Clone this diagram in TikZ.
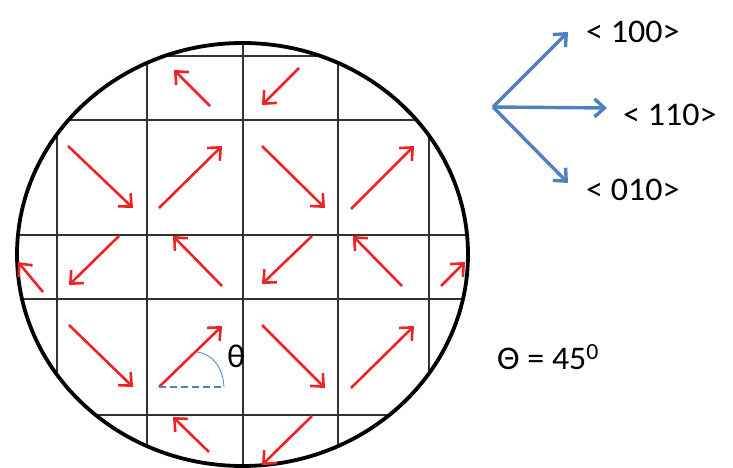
\documentclass[tikz,border=0pt]{standalone}
\usepackage{fontspec}
\setmainfont{Carlito}
\usetikzlibrary{arrows.meta}
\definecolor{arrred}{HTML}{EE2328}
\definecolor{dirblue}{HTML}{4F81BD}
\definecolor{angblue}{HTML}{5B7DB5}
\definecolor{gridgray}{HTML}{333333}

\begin{document}
\begin{tikzpicture}[x=1pt, y=-1pt, >={Straight Barb[length=10pt, width=18pt]},
  lbl/.style={font=\fontsize{33}{35}\selectfont, xscale=1.03, inner sep=0pt, anchor=base west}]

\useasboundingbox (0,0) rectangle (733,468);

% Wafer grid, clipped to the outline
\coordinate (wafer) at (242.5,254.5);
\begin{scope}
  \clip (wafer) ellipse [x radius=225.5pt, y radius=211.5pt];
  \foreach \gy in {56,120,235,299,415} {
    \draw[gridgray, line width=1.1pt] (0,\gy) -- (733,\gy);
  }
  \foreach \gx in {57,147,243,338,429} {
    \draw[gridgray, line width=1.1pt] (\gx,0) -- (\gx,468);
  }
\end{scope}

% Wafer outline
\draw[black, line width=3.8pt] (wafer) ellipse [x radius=225.5pt, y radius=211.5pt];

% Red cell arrows (tail/head)
\foreach \ax/\ay/\bx/\by in {
  210/106/174/70, 299/68/262/105,
  68/146/133/208, 159/208/222/146, 262/146/325/208, 351/209/414/146,
  43/292/18/262, 119/236/69/285, 222/286/173/236, 312/236/262/284, 402/286/353/236, 441/286/465/262,
  69/325/133/387, 159/387/222/326, 262/325/325/388, 351/388/414/326,
  209/452/173/417, 312/416/262/465} {
  \draw[arrred, line width=2.6pt, ->] (\ax,\ay) -- (\bx,\by);
}

% Angle marking
\coordinate (tail) at (159,387);
\coordinate (base) at (224,387);
\draw[angblue, line width=2pt, dash pattern=on 7pt off 4pt] (tail) -- (base);
\draw[angblue, line width=0.8pt] (197,352) .. controls (213,354) and (223,368) .. (base);
\node[lbl] (theta) at (227,367) {θ};

% Crystal directions
\coordinate (orig) at (493,107);
\coordinate (t100) at (568,32);
\coordinate (t110) at (607,108);
\coordinate (t010) at (568,183);
\foreach \tip in {t100,t110,t010} {
  \draw[dirblue, line width=3.4pt, ->] (orig) -- (\tip);
}
\node[lbl] (l100) at (586,43) {< 100>};
\node[lbl] (l110) at (623,126) {< 110>};
\node[lbl] (l010) at (586,200) {< 010>};

% Angle value
\node[lbl] (angle) at (497,369) {Θ = 45\textsuperscript{0}};

\end{tikzpicture}
\end{document}
